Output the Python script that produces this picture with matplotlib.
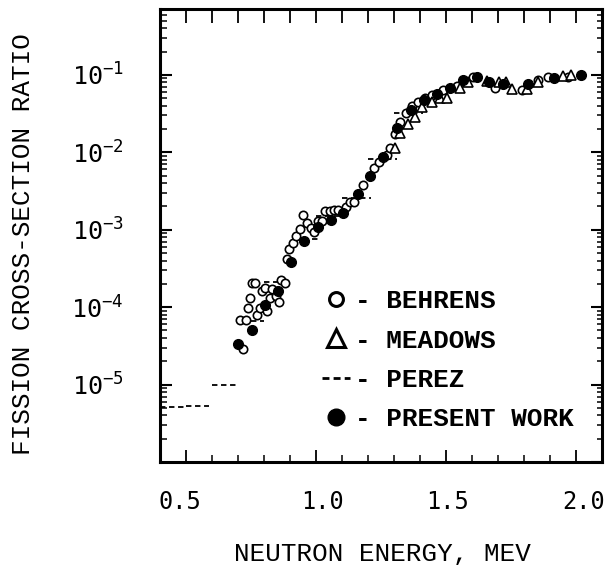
import matplotlib
matplotlib.use("Agg")
import matplotlib.pyplot as plt
from matplotlib.lines import Line2D
from matplotlib.ticker import LogLocator, MultipleLocator, NullFormatter
from matplotlib.font_manager import FontProperties

# --- data ---
behrens_x = [0.708, 0.731, 0.720, 0.737, 0.746, 0.753, 0.765, 0.774, 0.785, 0.793,
             0.804, 0.813, 0.823, 0.832, 0.845, 0.858, 0.865, 0.882, 0.887, 0.897,
             0.913, 0.923, 0.938, 0.951, 0.967, 0.980, 0.992, 1.006, 1.022, 1.035,
             1.054, 1.069, 1.086, 1.115, 1.131, 1.146, 1.182, 1.223, 1.244, 1.272,
             1.285, 1.304, 1.323, 1.346, 1.368, 1.394, 1.419, 1.445, 1.490, 1.541,
             1.603, 1.688, 1.791, 1.855, 1.893, 1.970]
behrens_y = [6.9e-5, 6.8e-5, 2.9e-5, 9.8e-5, 1.31e-4, 2.05e-4, 2.05e-4, 7.9e-5, 9.8e-5, 1.6e-4,
             1.77e-4, 8.9e-5, 1.31e-4, 1.72e-4, 1.38e-4, 1.15e-4, 2.26e-4, 2.05e-4, 4.2e-4, 5.6e-4,
             6.7e-4, 8.2e-4, 1.02e-3, 1.55e-3, 1.24e-3, 1.04e-3, 9.3e-4, 1.28e-3, 1.28e-3, 1.73e-3,
             1.76e-3, 1.81e-3, 1.78e-3, 1.96e-3, 2.3e-3, 2.3e-3, 3.8e-3, 6.2e-3, 7.4e-3, 9.3e-3,
             0.0115, 0.0172, 0.025, 0.0323, 0.0398, 0.0452, 0.051, 0.055, 0.064, 0.072,
             0.093, 0.067, 0.064, 0.085, 0.093, 0.093]

meadows_x = [1.304, 1.323, 1.355, 1.381, 1.406, 1.445, 1.477, 1.503, 1.554, 1.586,
             1.656, 1.705, 1.731, 1.753, 1.810, 1.855, 1.951, 1.980]
meadows_y = [0.0115, 0.018, 0.0234, 0.029, 0.038, 0.045, 0.050, 0.050, 0.067, 0.082,
             0.084, 0.080, 0.082, 0.066, 0.066, 0.080, 0.097, 0.100]

perez_lo = [0.40, 0.50, 0.60, 0.75, 0.80, 0.95, 1.00, 1.10, 1.20, 1.30]
perez_hi = [0.50, 0.59, 0.70, 0.80, 0.90, 1.01, 1.10, 1.21, 1.31, 1.41]
perez_val = [5.1e-6, 5.3e-6, 1.0e-5, 6.6e-5, 2.1e-4, 7.6e-4, 1.5e-3, 2.6e-3, 8.3e-3, 3.2e-2]

present_x = [0.701, 0.753, 0.804, 0.853, 0.904, 0.954, 1.009, 1.056, 1.105, 1.163,
             1.208, 1.259, 1.310, 1.364, 1.415, 1.467, 1.515, 1.567, 1.618, 1.667,
             1.718, 1.817, 1.917, 2.018]
present_y = [3.3e-5, 5.1e-5, 1.07e-4, 1.6e-4, 3.8e-4, 7.2e-4, 1.1e-3, 1.35e-3, 1.64e-3, 2.9e-3,
             4.9e-3, 8.6e-3, 0.0205, 0.0354, 0.048, 0.0564, 0.0672, 0.086, 0.093, 0.082,
             0.0766, 0.0766, 0.091, 0.100]

x_tick_vals = [0.5, 1.0, 1.5, 2.0]
x_tick_text = ["0.5", "1.0", "1.5", "2.0"]
x_text_pos = [0.478, 1.025, 1.505, 2.03]   # typed labels sit a little off the ticks
y_tick_vals = [1e-5, 1e-4, 1e-3, 1e-2, 1e-1]
y_tick_text = [r"$\mathregular{10^{-5}}$", r"$\mathregular{10^{-4}}$", r"$\mathregular{10^{-3}}$",
               r"$\mathregular{10^{-2}}$", r"$\mathregular{10^{-1}}$"]
legend_names = ["- BEHRENS", "- MEADOWS", "- PEREZ", "- PRESENT WORK"]

TYPE = "Liberation Mono"
SANS = "DejaVu Sans Mono"

fig = plt.figure(figsize=(6.05, 5.65), dpi=100)
ax = fig.add_axes([160 / 605, 1 - 462 / 565, 442 / 605, 453 / 565])
ax.set_yscale("log")
ax.set_xlim(0.4, 2.1)
ax.set_ylim(1e-6, 0.71)

ax.hlines(perez_val, perez_lo, perez_hi, colors="black", linewidth=1.3,
          linestyles=(0, (3, 2)), zorder=2)
ax.plot(behrens_x, behrens_y, ls="none", marker="o", ms=6, mfc="white",
        mec="black", mew=1.2, zorder=3)
ax.plot(meadows_x, meadows_y, ls="none", marker="^", ms=6.5, mfc="white",
        mec="black", mew=1.2, zorder=3)
ax.plot(present_x, present_y, ls="none", marker="o", ms=7, color="black", zorder=4)

for s in ax.spines.values():
    s.set_linewidth(2.2)

# bottom / left ticks
ax.set_xticks(x_tick_vals)
ax.xaxis.set_minor_locator(MultipleLocator(0.1))
ax.set_xticklabels([])
ax.tick_params(axis="x", which="major", direction="in", length=8.6, width=1.3)
ax.tick_params(axis="x", which="minor", direction="in", length=5, width=1.1)
ax.set_yticks(y_tick_vals)
ax.set_yticklabels(y_tick_text, fontfamily=SANS, fontsize=18)
ax.yaxis.set_minor_locator(LogLocator(base=10, subs=range(2, 10), numticks=20))
ax.yaxis.set_minor_formatter(NullFormatter())
ax.tick_params(axis="y", which="major", direction="in", length=8.6, width=1.5, pad=26)
ax.tick_params(axis="y", which="minor", direction="in", length=5, width=1.1)

for v, t in zip(x_text_pos, x_tick_text):
    ax.text(v, -0.088, t, transform=ax.get_xaxis_transform(), ha="center",
            va="center", fontfamily=SANS, fontsize=17)

# top / right ticks
top = ax.secondary_xaxis("top")
top.xaxis.set_major_locator(MultipleLocator(0.1))
top.tick_params(which="major", direction="in", length=10, width=1.3, labeltop=False)
right = ax.secondary_yaxis("right")
right.yaxis.set_major_locator(LogLocator(base=10, numticks=20))
right.yaxis.set_minor_locator(LogLocator(base=10, subs=range(2, 10), numticks=20))
right.yaxis.set_minor_formatter(NullFormatter())
right.tick_params(which="major", direction="in", length=7.7, width=1.5, labelright=False)
right.tick_params(which="minor", direction="in", length=3.6, width=1.1)

ax.set_xlabel("NEUTRON ENERGY, MEV", fontfamily=TYPE, fontsize=18.7, va="center")
ax.xaxis.set_label_coords(0.503, -0.203)
ax.set_ylabel("FISSION CROSS-SECTION RATIO", fontfamily=TYPE, fontsize=18.7, va="center")
ax.yaxis.set_label_coords(-0.309, 0.48)

handles = [
    Line2D([], [], ls="none", marker="o", ms=10, mfc="white", mec="black", mew=2.2),
    Line2D([], [], ls="none", marker="^", ms=13, mfc="white", mec="black", mew=2.2),
    Line2D([], [], color="black", lw=2, ls=(0, (2.5, 1.5))),
    Line2D([], [], ls="none", marker="o", ms=12, color="black"),
]
ax.legend(handles, legend_names, loc="center left", bbox_to_anchor=(0.366, 0.225),
          frameon=False, prop=FontProperties(family=TYPE, weight="bold", size=18.7),
          handlelength=1.08, handletextpad=0.2, labelspacing=0.58,
          borderpad=0, borderaxespad=0)

fig.savefig("out.png", dpi=100)
